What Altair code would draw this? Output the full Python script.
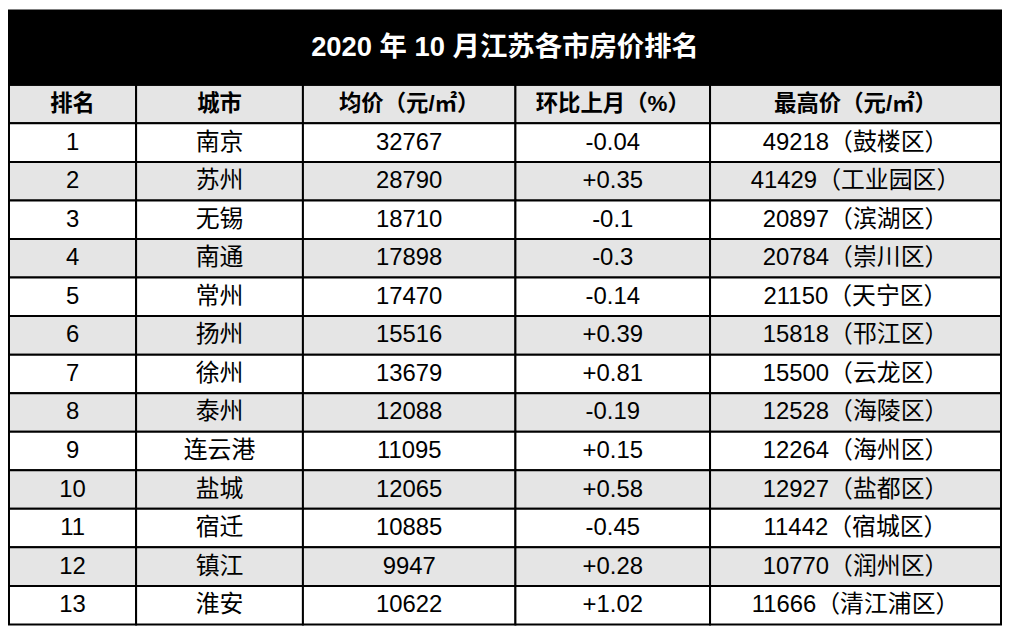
import altair as alt
import pandas as pd

title_text = "2020 年 10 月江苏各市房价排名"
headers = ["排名", "城市", "均价（元/㎡）", "环比上月（%）", "最高价（元/㎡）"]
ranks = [1, 2, 3, 4, 5, 6, 7, 8, 9, 10, 11, 12, 13]
cities = ["南京", "苏州", "无锡", "南通", "常州", "扬州", "徐州", "泰州", "连云港", "盐城", "宿迁", "镇江", "淮安"]
avg_price = [32767, 28790, 18710, 17898, 17470, 15516, 13679, 12088, 11095, 12065, 10885, 9947, 10622]
mom_change = ["-0.04", "+0.35", "-0.1", "-0.3", "-0.14", "+0.39", "+0.81", "-0.19", "+0.15", "+0.58", "-0.45", "+0.28", "+1.02"]
max_price = [49218, 41429, 20897, 20784, 21150, 15818, 15500, 12528, 12264, 12927, 11442, 10770, 11666]
max_district = ["鼓楼区", "工业园区", "滨湖区", "崇川区", "天宁区", "邗江区", "云龙区", "海陵区", "海州区", "盐都区", "宿城区", "润州区", "清江浦区"]

# layout (table units)
col_edges = [6, 134, 302, 516, 712, 1005]
top, title_bottom, bottom = 5, 80, 625
n_rows = len(ranks) + 1
row_h = (bottom - title_bottom) / n_rows

body = [[str(r), c, str(a), m, f"{p}（{d}）"]
        for r, c, a, m, p, d in zip(ranks, cities, avg_price, mom_change, max_price, max_district)]
all_rows = [headers] + body

cells, texts = [], []
for ri, row in enumerate(all_rows):
    y0 = title_bottom + ri * row_h
    for ci, val in enumerate(row):
        cells.append({"x": col_edges[ci], "x2": col_edges[ci + 1], "y": y0, "y2": y0 + row_h,
                      "shade": "g" if ri % 2 == 0 else "w"})
        texts.append({"xc": (col_edges[ci] + col_edges[ci + 1]) / 2, "yc": y0 + row_h / 2,
                      "label": val, "kind": "header" if ri == 0 else "body"})
cells_df = pd.DataFrame(cells)
texts_df = pd.DataFrame(texts)
title_df = pd.DataFrame([{"x": col_edges[0], "x2": col_edges[-1], "y": top, "y2": title_bottom,
                          "xc": (col_edges[0] + col_edges[-1]) / 2, "yc": (top + title_bottom) / 2,
                          "label": title_text}])

xs = alt.Scale(domain=[col_edges[0], col_edges[-1]], nice=False, zero=False)
ys = alt.Scale(domain=[top, bottom], nice=False, zero=False, reverse=True)
X = lambda f: alt.X(f, type="quantitative", scale=xs, axis=None)
Y = lambda f: alt.Y(f, type="quantitative", scale=ys, axis=None)

font = "Liberation Sans, Arial, Noto Sans CJK SC"

title_band = alt.Chart(title_df).mark_rect(fill="black", stroke="black", strokeWidth=2).encode(
    x=X("x"), x2="x2", y=Y("y"), y2="y2")
title_txt = alt.Chart(title_df).mark_text(color="white", font=font, fontSize=27.5, fontWeight="bold",
                                         align="center", baseline="middle").encode(
    x=X("xc"), y=Y("yc"), text="label:N")

grid = alt.Chart(cells_df).mark_rect(stroke="black", strokeWidth=2).encode(
    x=X("x"), x2="x2", y=Y("y"), y2="y2",
    fill=alt.Fill("shade:N", scale=alt.Scale(domain=["g", "w"], range=["#e5e5e5", "#ffffff"]), legend=None))

head_txt = alt.Chart(texts_df).transform_filter("datum.kind == 'header'").mark_text(
    color="black", font=font, fontSize=22.5, fontWeight="bold", align="center", baseline="middle").encode(
    x=X("xc"), y=Y("yc"), text="label:N")
body_txt = alt.Chart(texts_df).transform_filter("datum.kind == 'body'").mark_text(
    color="black", font=font, fontSize=24, align="center", baseline="middle").encode(
    x=X("xc"), y=Y("yc"), text="label:N")

chart = alt.layer(grid, title_band, title_txt, head_txt, body_txt).properties(
    width=997, height=617, padding=0
).configure_view(stroke=None)

chart.save("out.html", embed_options={"renderer": "svg", "actions": False})
